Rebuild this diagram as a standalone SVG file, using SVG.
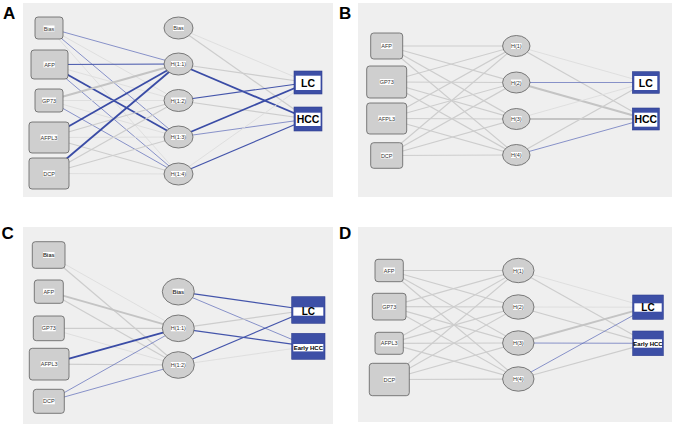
<svg xmlns="http://www.w3.org/2000/svg" width="675" height="428" viewBox="0 0 675 428">
<style>
.bg{fill:#efefef}
.box{fill:#cfcfcf;stroke:#5f5f5f;stroke-width:0.8}
.hid{fill:#cfcfcf;stroke:#5f5f5f;stroke-width:0.8}
.lab{fill:#ffffff}
.t{font-family:"Liberation Sans",Arial,sans-serif;font-size:5.5px;fill:#333;text-anchor:middle}
.out{fill:#3d4fa6;stroke:#2f3f8f;stroke-width:0.6}
.band{fill:#ffffff}
.ot{font-family:"Liberation Sans",Arial,sans-serif;font-weight:bold;fill:#000;text-anchor:middle}
.pl{font-family:"Liberation Sans",Arial,sans-serif;font-weight:bold;font-size:17px;fill:#000}
line{fill:none}
.g1{stroke:#dcdcdc;stroke-width:0.9}
.g2{stroke:#cdcdcd;stroke-width:1.2}
.g3{stroke:#c4c4c4;stroke-width:1.9}
.b1{stroke:#5a69b8;stroke-width:0.7}
.b2{stroke:#4455ab;stroke-width:1.2}
.b3{stroke:#3a4ca6;stroke-width:1.8}
</style>
<rect width="675" height="428" fill="#ffffff"/>
<g id="backgrounds">
<rect class="bg" x="23" y="3" width="310" height="194"/>
<rect class="bg" x="358" y="3" width="314" height="194"/>
<rect class="bg" x="23" y="227" width="310" height="197"/>
<rect class="bg" x="358" y="227" width="314" height="195"/>
</g>
<g id="panel-labels">
<text class="pl" x="3" y="18.5">A</text>
<text class="pl" x="339" y="18.5">B</text>
<text class="pl" x="1.5" y="238.5">C</text>
<text class="pl" x="339" y="238.5">D</text>
</g>
<g id="connectors">
<!-- Panel A -->
<line class="b1" x1="49" y1="28" x2="178.5" y2="64"/>
<line class="g1" x1="49" y1="28" x2="178.5" y2="100.5"/>
<line class="b1" x1="49" y1="28" x2="178.5" y2="137"/>
<line class="g1" x1="49" y1="28" x2="178.5" y2="174"/>
<line class="b2" x1="49.5" y1="64.5" x2="178.5" y2="64"/>
<line class="g1" x1="49.5" y1="64.5" x2="178.5" y2="100.5"/>
<line class="b3" x1="49.5" y1="64.5" x2="178.5" y2="137"/>
<line class="b1" x1="49.5" y1="64.5" x2="178.5" y2="174"/>
<line class="g3" x1="49" y1="100.5" x2="178.5" y2="64"/>
<line class="g1" x1="49" y1="100.5" x2="178.5" y2="100.5"/>
<line class="g1" x1="49" y1="100.5" x2="178.5" y2="137"/>
<line class="b1" x1="49" y1="100.5" x2="178.5" y2="174"/>
<line class="b3" x1="49" y1="137.5" x2="178.5" y2="64"/>
<line class="g2" x1="49" y1="137.5" x2="178.5" y2="100.5"/>
<line class="g1" x1="49" y1="137.5" x2="178.5" y2="137"/>
<line class="g2" x1="49" y1="137.5" x2="178.5" y2="174"/>
<line class="b3" x1="49" y1="173.5" x2="178.5" y2="64"/>
<line class="g2" x1="49" y1="173.5" x2="178.5" y2="100.5"/>
<line class="g2" x1="49" y1="173.5" x2="178.5" y2="137"/>
<line class="g1" x1="49" y1="173.5" x2="178.5" y2="174"/>
<line class="g1" x1="178.5" y1="28" x2="308" y2="82.5"/>
<line class="g2" x1="178.5" y1="28" x2="308" y2="119"/>
<line class="g2" x1="178.5" y1="64" x2="308" y2="82.5"/>
<line class="b3" x1="178.5" y1="64" x2="308" y2="119"/>
<line class="b2" x1="178.5" y1="100.5" x2="308" y2="82.5"/>
<line class="g2" x1="178.5" y1="100.5" x2="308" y2="119"/>
<line class="b3" x1="178.5" y1="137" x2="308" y2="82.5"/>
<line class="b1" x1="178.5" y1="137" x2="308" y2="119"/>
<line class="g1" x1="178.5" y1="174" x2="308" y2="82.5"/>
<line class="b2" x1="178.5" y1="174" x2="308" y2="119"/>
<!-- Panel B -->
<line class="g2" x1="386.7" y1="46" x2="516.3" y2="46"/>
<line class="g2" x1="386.7" y1="46" x2="516.3" y2="82.5"/>
<line class="g2" x1="386.7" y1="46" x2="516.3" y2="119"/>
<line class="g2" x1="386.7" y1="46" x2="516.3" y2="155"/>
<line class="g2" x1="386.7" y1="82" x2="516.3" y2="46"/>
<line class="g2" x1="386.7" y1="82" x2="516.3" y2="82.5"/>
<line class="g2" x1="386.7" y1="82" x2="516.3" y2="119"/>
<line class="g2" x1="386.7" y1="82" x2="516.3" y2="155"/>
<line class="g2" x1="386.7" y1="118.5" x2="516.3" y2="46"/>
<line class="g2" x1="386.7" y1="118.5" x2="516.3" y2="82.5"/>
<line class="g2" x1="386.7" y1="118.5" x2="516.3" y2="119"/>
<line class="g2" x1="386.7" y1="118.5" x2="516.3" y2="155"/>
<line class="g2" x1="386.7" y1="155.5" x2="516.3" y2="46"/>
<line class="g2" x1="386.7" y1="155.5" x2="516.3" y2="82.5"/>
<line class="g2" x1="386.7" y1="155.5" x2="516.3" y2="119"/>
<line class="g2" x1="386.7" y1="155.5" x2="516.3" y2="155"/>
<line class="g1" x1="516.3" y1="46" x2="645.8" y2="82.5"/>
<line class="g2" x1="516.3" y1="46" x2="645.8" y2="119"/>
<line class="b1" x1="516.3" y1="82.5" x2="645.8" y2="82.5"/>
<line class="g3" x1="516.3" y1="82.5" x2="645.8" y2="119"/>
<line class="g1" x1="516.3" y1="119" x2="645.8" y2="82.5"/>
<line class="g3" x1="516.3" y1="119" x2="645.8" y2="119"/>
<line class="g2" x1="516.3" y1="155" x2="645.8" y2="82.5"/>
<line class="b1" x1="516.3" y1="155" x2="645.8" y2="119"/>
<!-- Panel C -->
<line class="g1" x1="48.7" y1="255" x2="178.3" y2="328.3"/>
<line class="g2" x1="48.7" y1="255" x2="178.3" y2="365"/>
<line class="g3" x1="48.8" y1="291.7" x2="178.3" y2="328.3"/>
<line class="g2" x1="48.8" y1="291.7" x2="178.3" y2="365"/>
<line class="g2" x1="48.8" y1="328.3" x2="178.3" y2="328.3"/>
<line class="g1" x1="48.8" y1="328.3" x2="178.3" y2="365"/>
<line class="b3" x1="49.2" y1="364.2" x2="178.3" y2="328.3"/>
<line class="g2" x1="49.2" y1="364.2" x2="178.3" y2="365"/>
<line class="b1" x1="48.8" y1="401.3" x2="178.3" y2="328.3"/>
<line class="b1" x1="48.8" y1="401.3" x2="178.3" y2="365"/>
<line class="b2" x1="178.3" y1="291.7" x2="308.3" y2="310"/>
<line class="b1" x1="178.3" y1="291.7" x2="308.3" y2="346.3"/>
<line class="g2" x1="178.3" y1="328.3" x2="308.3" y2="310"/>
<line class="b2" x1="178.3" y1="328.3" x2="308.3" y2="346.3"/>
<line class="b2" x1="178.3" y1="365" x2="308.3" y2="310"/>
<line class="g1" x1="178.3" y1="365" x2="308.3" y2="346.3"/>
<!-- Panel D -->
<line class="g2" x1="389.2" y1="270.5" x2="518.3" y2="270.5"/>
<line class="g2" x1="389.2" y1="270.5" x2="518.3" y2="307"/>
<line class="g2" x1="389.2" y1="270.5" x2="518.3" y2="343"/>
<line class="g2" x1="389.2" y1="270.5" x2="518.3" y2="379"/>
<line class="g2" x1="389.2" y1="306.7" x2="518.3" y2="270.5"/>
<line class="g2" x1="389.2" y1="306.7" x2="518.3" y2="307"/>
<line class="g2" x1="389.2" y1="306.7" x2="518.3" y2="343"/>
<line class="g2" x1="389.2" y1="306.7" x2="518.3" y2="379"/>
<line class="g2" x1="389.2" y1="343.3" x2="518.3" y2="270.5"/>
<line class="g2" x1="389.2" y1="343.3" x2="518.3" y2="307"/>
<line class="g2" x1="389.2" y1="343.3" x2="518.3" y2="343"/>
<line class="g2" x1="389.2" y1="343.3" x2="518.3" y2="379"/>
<line class="g2" x1="389.3" y1="379.5" x2="518.3" y2="270.5"/>
<line class="g2" x1="389.3" y1="379.5" x2="518.3" y2="307"/>
<line class="g2" x1="389.3" y1="379.5" x2="518.3" y2="343"/>
<line class="g2" x1="389.3" y1="379.5" x2="518.3" y2="379"/>
<line class="g1" x1="518.3" y1="270.5" x2="648" y2="307.2"/>
<line class="g2" x1="518.3" y1="270.5" x2="648" y2="343.3"/>
<line class="g1" x1="518.3" y1="307" x2="648" y2="307.2"/>
<line class="g2" x1="518.3" y1="307" x2="648" y2="343.3"/>
<line class="g3" x1="518.3" y1="343" x2="648" y2="307.2"/>
<line class="b1" x1="518.3" y1="343" x2="648" y2="343.3"/>
<line class="b1" x1="518.3" y1="379" x2="648" y2="307.2"/>
<line class="g2" x1="518.3" y1="379" x2="648" y2="343.3"/>
</g>
<!-- Panel A nodes -->
<g id="A-in-bias"><rect class="box" x="35" y="17" width="28" height="22" rx="3"/><rect class="lab" x="43.5" y="25.5" width="11" height="6"/><text class="t" x="49" y="30.5">Bias</text></g>
<g id="A-in-afp"><rect class="box" x="31" y="50" width="37" height="29" rx="3"/><rect class="lab" x="43.5" y="61.5" width="11.5" height="6"/><text class="t" x="49.5" y="66.5">AFP</text></g>
<g id="A-in-gp73"><rect class="box" x="35" y="89" width="28" height="23" rx="3"/><rect class="lab" x="42" y="97.5" width="14" height="6"/><text class="t" x="49" y="102.5">GP73</text></g>
<g id="A-in-afpl3"><rect class="box" x="29" y="122" width="40" height="31" rx="3"/><rect class="lab" x="40.5" y="134.5" width="17" height="6"/><text class="t" x="49" y="139.5">AFPL3</text></g>
<g id="A-in-dcp"><rect class="box" x="29" y="158" width="40" height="31" rx="3"/><rect class="lab" x="43" y="170.5" width="12" height="6"/><text class="t" x="49" y="175.5">DCP</text></g>
<g id="A-h-bias"><ellipse class="hid" cx="178.5" cy="28" rx="14.5" ry="11"/><rect class="lab" x="173" y="25" width="11" height="6"/><text class="t" x="178.5" y="30">Bias</text></g>
<g id="A-h11"><ellipse class="hid" cx="178.5" cy="64" rx="14.5" ry="11"/><rect class="lab" x="171" y="61" width="15" height="6"/><text class="t" x="178.5" y="66">H(1:1)</text></g>
<g id="A-h12"><ellipse class="hid" cx="178.5" cy="100.5" rx="14.5" ry="11"/><rect class="lab" x="171" y="97.5" width="15" height="6"/><text class="t" x="178.5" y="102.5">H(1:2)</text></g>
<g id="A-h13"><ellipse class="hid" cx="178.5" cy="137" rx="14.5" ry="11"/><rect class="lab" x="171" y="134" width="15" height="6"/><text class="t" x="178.5" y="139">H(1:3)</text></g>
<g id="A-h14"><ellipse class="hid" cx="178.5" cy="174" rx="14.5" ry="11"/><rect class="lab" x="171" y="171" width="15" height="6"/><text class="t" x="178.5" y="176">H(1:4)</text></g>
<g id="A-out-lc"><rect class="out" x="294" y="71" width="28" height="23"/><rect class="band" x="295.8" y="75.7" width="24.8" height="14.3"/><text class="ot" x="308" y="86.6" font-size="10.5">LC</text></g>
<g id="A-out-hcc"><rect class="out" x="294" y="107" width="28" height="24"/><rect class="band" x="295.8" y="112.7" width="24.8" height="13.3"/><text class="ot" x="308" y="123.2" font-size="10.5">HCC</text></g>
<!-- Panel B nodes -->
<g id="B-in-afp"><rect class="box" x="370.7" y="33" width="32" height="26" rx="3"/><rect class="lab" x="381" y="43" width="11.5" height="6"/><text class="t" x="386.7" y="48">AFP</text></g>
<g id="B-in-gp73"><rect class="box" x="366.7" y="66" width="40" height="32" rx="3"/><rect class="lab" x="379.7" y="79" width="14" height="6"/><text class="t" x="386.7" y="84">GP73</text></g>
<g id="B-in-afpl3"><rect class="box" x="366.7" y="103" width="40" height="31" rx="3"/><rect class="lab" x="378.2" y="115.5" width="17" height="6"/><text class="t" x="386.7" y="120.5">AFPL3</text></g>
<g id="B-in-dcp"><rect class="box" x="370.7" y="142.7" width="32" height="25.6" rx="3"/><rect class="lab" x="380.7" y="152.5" width="12" height="6"/><text class="t" x="386.7" y="157.5">DCP</text></g>
<g id="B-h1"><ellipse class="hid" cx="516.3" cy="46" rx="13.7" ry="10.5"/><rect class="lab" x="511" y="43" width="10.6" height="6"/><text class="t" x="516.3" y="48">H(1)</text></g>
<g id="B-h2"><ellipse class="hid" cx="516.3" cy="82.5" rx="13.7" ry="10.5"/><rect class="lab" x="511" y="79.5" width="10.6" height="6"/><text class="t" x="516.3" y="84.5">H(2)</text></g>
<g id="B-h3"><ellipse class="hid" cx="516.3" cy="119" rx="13.7" ry="10.5"/><rect class="lab" x="511" y="116" width="10.6" height="6"/><text class="t" x="516.3" y="121">H(3)</text></g>
<g id="B-h4"><ellipse class="hid" cx="516.3" cy="155" rx="13.7" ry="10.5"/><rect class="lab" x="511" y="152" width="10.6" height="6"/><text class="t" x="516.3" y="157">H(4)</text></g>
<g id="B-out-lc"><rect class="out" x="632.3" y="71.7" width="27" height="21.6"/><rect class="band" x="634.3" y="76" width="23" height="14"/><text class="ot" x="645.8" y="86.6" font-size="10.5">LC</text></g>
<g id="B-out-hcc"><rect class="out" x="632.3" y="108" width="27" height="22"/><rect class="band" x="634.3" y="112.7" width="23" height="14"/><text class="ot" x="645.8" y="123.3" font-size="10.5">HCC</text></g>
<!-- Panel C nodes -->
<g id="C-in-bias"><rect class="box" x="32.3" y="241.7" width="32.7" height="26.6" rx="3"/><rect class="lab" x="43" y="252" width="11.5" height="6"/><text class="t" x="48.7" y="257" font-weight="bold">Bias</text></g>
<g id="C-in-afp"><rect class="box" x="34.3" y="280" width="29" height="23.3" rx="3"/><rect class="lab" x="43" y="288.7" width="11.5" height="6"/><text class="t" x="48.8" y="293.7">AFP</text></g>
<g id="C-in-gp73"><rect class="box" x="33.3" y="316" width="31" height="24.7" rx="3"/><rect class="lab" x="41.8" y="325.3" width="14" height="6"/><text class="t" x="48.8" y="330.3">GP73</text></g>
<g id="C-in-afpl3"><rect class="box" x="29.3" y="348.3" width="39.7" height="31.7" rx="3"/><rect class="lab" x="40.7" y="361.2" width="17" height="6"/><text class="t" x="49.2" y="366.2">AFPL3</text></g>
<g id="C-in-dcp"><rect class="box" x="33.3" y="389.3" width="31" height="24" rx="3"/><rect class="lab" x="42.8" y="398.3" width="12" height="6"/><text class="t" x="48.8" y="403.3">DCP</text></g>
<g id="C-h-bias"><ellipse class="hid" cx="178.3" cy="291.7" rx="16" ry="13.3"/><rect class="lab" x="172.5" y="288.7" width="11.5" height="6"/><text class="t" x="178.3" y="293.7" font-weight="bold">Bias</text></g>
<g id="C-h11"><ellipse class="hid" cx="178.3" cy="328.3" rx="16" ry="13.3"/><rect class="lab" x="170.8" y="325.3" width="15" height="6"/><text class="t" x="178.3" y="330.3">H(1:1)</text></g>
<g id="C-h12"><ellipse class="hid" cx="178.3" cy="365" rx="16" ry="13.3"/><rect class="lab" x="170.8" y="362" width="15" height="6"/><text class="t" x="178.3" y="367">H(1:2)</text></g>
<g id="C-out-lc"><rect class="out" x="291.7" y="296.7" width="33.3" height="26.6"/><rect class="band" x="293.3" y="307.3" width="30" height="8.4"/><text class="ot" x="308.3" y="315" font-size="10">LC</text></g>
<g id="C-out-ehcc"><rect class="out" x="291.7" y="333.3" width="33.3" height="26"/><rect class="band" x="293.3" y="344" width="30" height="7.4"/><text class="ot" x="308.3" y="349.8" font-size="6">Early HCC</text></g>
<!-- Panel D nodes -->
<g id="D-in-afp"><rect class="box" x="375" y="259.3" width="28.3" height="22.4" rx="3"/><rect class="lab" x="383.4" y="267.5" width="11.5" height="6"/><text class="t" x="389.2" y="272.5">AFP</text></g>
<g id="D-in-gp73"><rect class="box" x="372.3" y="293.3" width="33.7" height="26.7" rx="3"/><rect class="lab" x="382.2" y="303.7" width="14" height="6"/><text class="t" x="389.2" y="308.7">GP73</text></g>
<g id="D-in-afpl3"><rect class="box" x="375" y="332.3" width="28.3" height="22" rx="3"/><rect class="lab" x="380.7" y="340.3" width="17" height="6"/><text class="t" x="389.2" y="345.3">AFPL3</text></g>
<g id="D-in-dcp"><rect class="box" x="369.3" y="363.3" width="40" height="32.4" rx="3"/><rect class="lab" x="383.3" y="376.5" width="12" height="6"/><text class="t" x="389.3" y="381.5">DCP</text></g>
<g id="D-h1"><ellipse class="hid" cx="518.3" cy="270.5" rx="15.7" ry="12.2"/><rect class="lab" x="513" y="267.5" width="10.6" height="6"/><text class="t" x="518.3" y="272.5">H(1)</text></g>
<g id="D-h2"><ellipse class="hid" cx="518.3" cy="307" rx="15.7" ry="12.2"/><rect class="lab" x="513" y="304" width="10.6" height="6"/><text class="t" x="518.3" y="309">H(2)</text></g>
<g id="D-h3"><ellipse class="hid" cx="518.3" cy="343" rx="15.7" ry="12.2"/><rect class="lab" x="513" y="340" width="10.6" height="6"/><text class="t" x="518.3" y="345">H(3)</text></g>
<g id="D-h4"><ellipse class="hid" cx="518.3" cy="379" rx="15.7" ry="12.2"/><rect class="lab" x="513" y="376" width="10.6" height="6"/><text class="t" x="518.3" y="381">H(4)</text></g>
<g id="D-out-lc"><rect class="out" x="632.7" y="295" width="30.6" height="24.3"/><rect class="band" x="634.3" y="303.3" width="27.4" height="8.4"/><text class="ot" x="648" y="311" font-size="10">LC</text></g>
<g id="D-out-ehcc"><rect class="out" x="632.7" y="331" width="30.6" height="24.7"/><rect class="band" x="634" y="339.3" width="28" height="8.4"/><text class="ot" x="648" y="345.5" font-size="6">Early HCC</text></g>
</svg>
